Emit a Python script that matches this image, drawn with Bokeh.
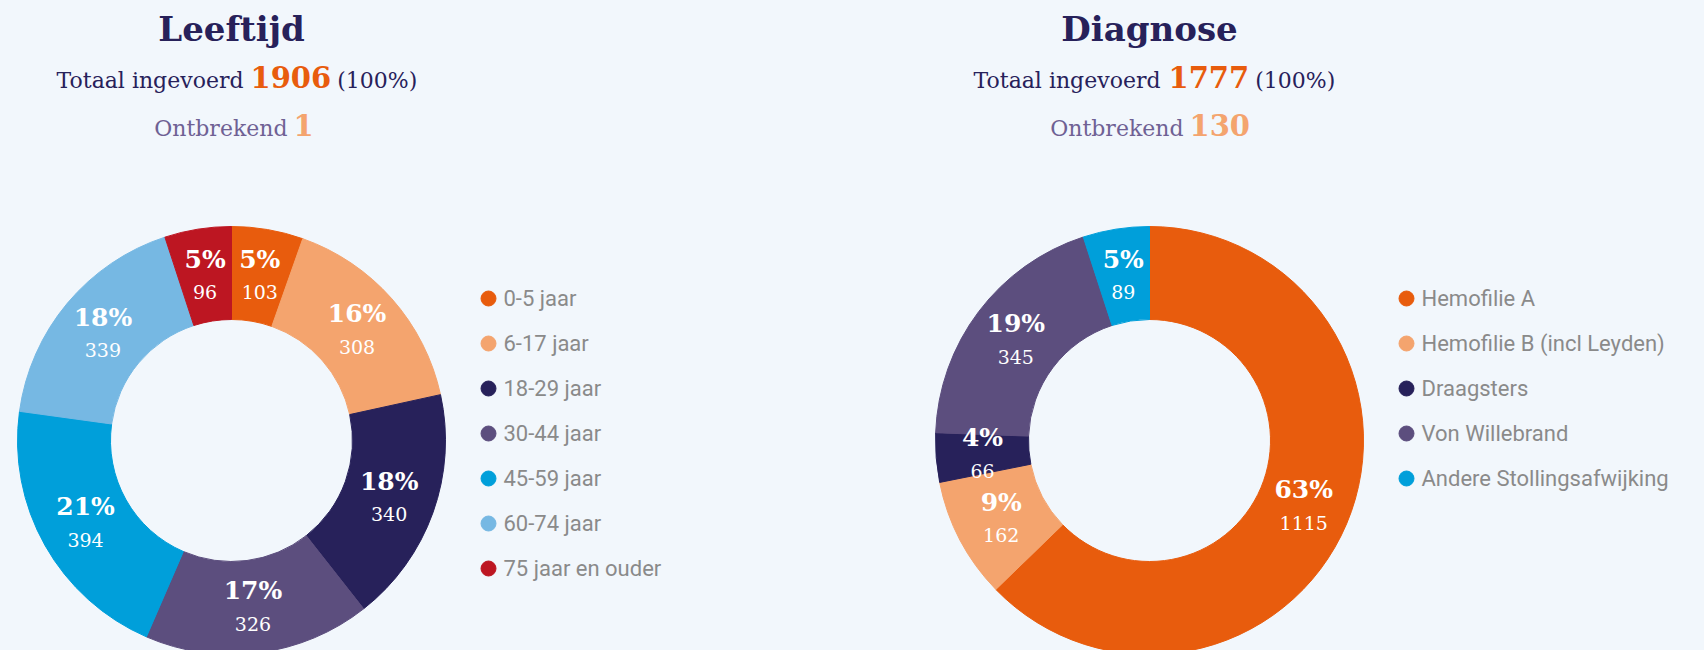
import math
from bokeh.plotting import figure
from bokeh.models import Range1d, ColumnDataSource
from bokeh.embed import file_html
from bokeh.resources import INLINE
from bokeh.core.properties import value

# ---------------- data ----------------
age_title = "Leeftijd"
age_labels = ["0-5 jaar", "6-17 jaar", "18-29 jaar", "30-44 jaar", "45-59 jaar", "60-74 jaar", "75 jaar en ouder"]
age_counts = [103, 308, 340, 326, 394, 339, 96]
age_colors = ["#e85c0d", "#f4a46e", "#27215a", "#5c4e7e", "#009fda", "#76b8e3", "#bd1622"]
age_total = 1906
age_missing = 1

diag_title = "Diagnose"
diag_labels = ["Hemofilie A", "Hemofilie B (incl Leyden)", "Draagsters", "Von Willebrand", "Andere Stollingsafwijking"]
diag_counts = [1115, 162, 66, 345, 89]
diag_colors = ["#e85c0d", "#f4a46e", "#27215a", "#5c4e7e", "#009fda"]
diag_total = 1777
diag_missing = 130

BG = "#f2f7fc"
NAVY = "#27215a"
ORANGE = "#e85c0d"
LIGHT_ORANGE = "#f4a46e"
MUTED = "#6f6194"
LEGEND_GREY = "#8a8a8a"
SERIF = value("DejaVu Serif")
SANS = value("Roboto")

W, H = 1704, 650
p = figure(width=W, height=H, x_range=Range1d(0, W), y_range=Range1d(0, H),
           output_backend="svg", toolbar_location=None, min_border=0)
p.axis.visible = False
p.grid.visible = False
p.outline_line_color = None
p.background_fill_color = BG
p.border_fill_color = BG


def sy(y):
    return H - y


def panel(cx, title, labels, counts, colors, total, missing, head, legend_x):
    cy = sy(440)
    tot = sum(counts)
    starts, ends, mids = [], [], []
    cum = 0
    for c in counts:
        starts.append(math.pi / 2 - 2 * math.pi * cum / tot)
        ends.append(math.pi / 2 - 2 * math.pi * (cum + c) / tot)
        mids.append(math.pi / 2 - 2 * math.pi * (cum + c / 2) / tot)
        cum += c
    src = ColumnDataSource(dict(start=starts, end=ends, color=colors))
    p.annular_wedge(x=cx, y=cy, inner_radius=121, outer_radius=214,
                    start_angle="start", end_angle="end", direction="clock",
                    fill_color="color", line_color="color", source=src)
    rm = 167.5
    lx = [cx + rm * math.cos(m) for m in mids]
    ly = [cy + rm * math.sin(m) for m in mids]
    pct = ["%d%%" % round(100 * c / tot) for c in counts]
    cnt = [str(c) for c in counts]
    lsrc = ColumnDataSource(dict(x=lx, yp=[y + 16 for y in ly], yc=[y - 17 for y in ly], pct=pct, cnt=cnt))
    p.text(x="x", y="yp", text="pct", source=lsrc, text_font=SERIF, text_font_style="bold",
           text_font_size="25px", text_color="white", text_align="center", text_baseline="middle")
    p.text(x="x", y="yc", text="cnt", source=lsrc, text_font=SERIF,
           text_font_size="19px", text_color="white", text_align="center", text_baseline="middle")

    # header
    p.text(x=[cx], y=[sy(28)], text=[title], text_font=SERIF, text_font_style="bold",
           text_font_size="34px", text_color=NAVY, text_align="center", text_baseline="middle")
    tx_end, num_x, on_end, mis_x = head
    num_size = 29
    num_w = len(str(total)) * 0.696 * num_size
    p.text(x=[tx_end], y=[sy(80)], text=["Totaal ingevoerd"], text_font=SERIF,
           text_font_size="22px", text_color=NAVY, text_align="right", text_baseline="middle")
    p.text(x=[num_x], y=[sy(76)], text=[str(total)], text_font=SERIF, text_font_style="bold",
           text_font_size="%dpx" % num_size, text_color=ORANGE, text_align="left", text_baseline="middle")
    p.text(x=[num_x + num_w + 6], y=[sy(80)], text=["(100%)"], text_font=SERIF,
           text_font_size="22px", text_color=NAVY, text_align="left", text_baseline="middle")
    p.text(x=[on_end], y=[sy(128)], text=["Ontbrekend"], text_font=SERIF,
           text_font_size="22px", text_color=MUTED, text_align="right", text_baseline="middle")
    p.text(x=[mis_x], y=[sy(124)], text=[str(missing)], text_font=SERIF, text_font_style="bold",
           text_font_size="%dpx" % num_size, text_color=LIGHT_ORANGE, text_align="left", text_baseline="middle")

    # legend
    rows = [298 + 45 * i for i in range(len(labels))]
    gsrc = ColumnDataSource(dict(x=[legend_x] * len(labels), y=[sy(r) for r in rows], color=colors))
    p.scatter(x="x", y="y", size=15, marker="circle", fill_color="color", line_color="color", source=gsrc)
    p.text(x=[legend_x + 15] * len(labels), y=[sy(r) for r in rows], text=labels, text_font=SANS,
           text_font_size="22px", text_color=LEGEND_GREY, text_align="left", text_baseline="middle")


panel(231, age_title, age_labels, age_counts, age_colors, age_total, age_missing,
      (243, 250, 287, 293), 488)
panel(1149, diag_title, diag_labels, diag_counts, diag_colors, diag_total, diag_missing,
      (1160, 1168, 1183, 1189), 1406)

html = file_html(p, INLINE)
html = html.replace("<body>", '<body style="background:%s">' % BG)
open("out.html", "w").write(html)
